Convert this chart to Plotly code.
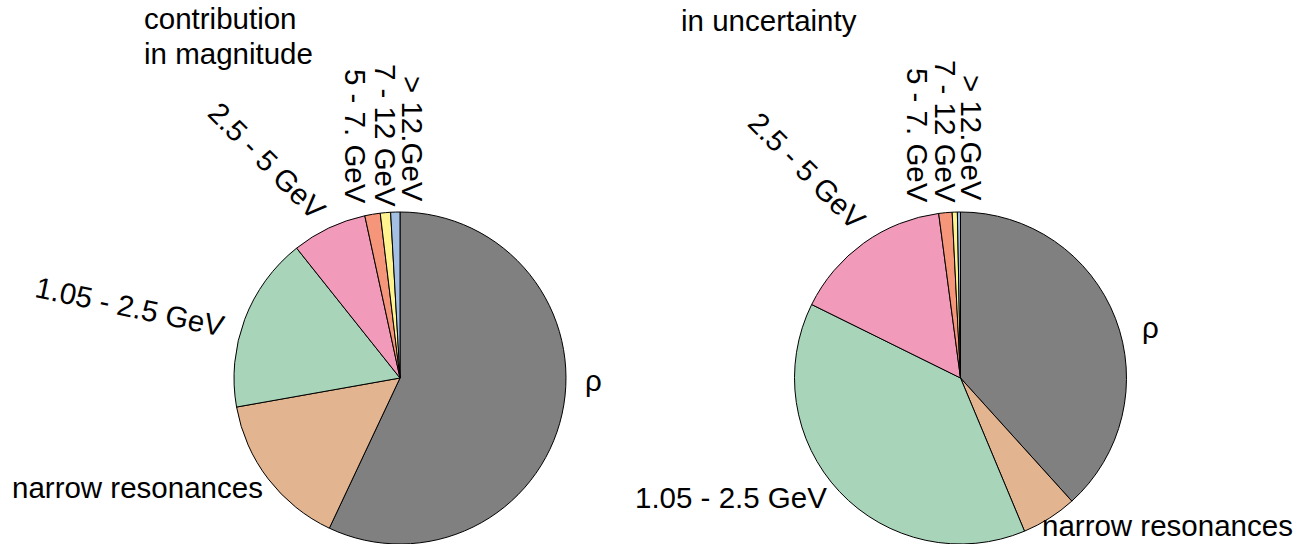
import plotly.graph_objects as go

W, H = 1308, 544

categories = ["ρ", "narrow resonances", "1.05 - 2.5 GeV", "2.5 - 5 GeV",
              "5 - 7. GeV", "7 - 12 GeV", "> 12.GeV"]
magnitude = [57.0, 15.2, 17.1, 7.3, 1.5, 1.0, 0.9]
uncertainty = [38.3, 5.4, 38.6, 15.6, 1.3, 0.5, 0.3]
titles = [["contribution", "in magnitude"], ["in uncertainty"]]

colors = ["#808080", "#e2b48f", "#a8d5b9", "#f29aba", "#f5967a", "#fff38f", "#a3bfe3"]

# pie geometry in screen pixels (center x, center y, radius)
pies = [(400, 378, 166), (960.5, 378, 166)]


def fx(px):
    return px / W


def fy(py):
    return 1 - py / H


fig = go.Figure()
for vals, (cx, cy, r) in zip([magnitude, uncertainty], pies):
    fig.add_trace(go.Pie(
        labels=categories, values=vals, sort=False, direction="clockwise",
        rotation=0, textinfo="none", hoverinfo="skip",
        marker=dict(colors=colors, line=dict(color="black", width=1)),
        domain=dict(x=[max(0, fx(cx - r)), min(1, fx(cx + r))],
                    y=[max(0, fy(cy + r)), min(1, fy(cy - r))]),
    ))

# label placement (screen pixel centers, rotation) for each pie
label_pos = [
    [(593, 380, 0), (137, 487, 0), (130, 306, 12), (267, 160, 45),
     (356, 136, 90), (386, 135, 90), (413, 139, 90)],
    [(1150, 327, 0), (1167, 525, 0), (731, 497, 0), (807, 170, 45),
     (918, 135, 90), (946, 131, 90), (972, 138, 90)],
]

font = dict(family="Liberation Sans, Arial, sans-serif", size=29.5, color="black")
ann = []
for lp in label_pos:
    for name, (px, py, ang) in zip(categories, lp):
        ann.append(dict(text=name, x=fx(px), y=fy(py), xref="paper", yref="paper",
                        xanchor="center", yanchor="middle", textangle=ang,
                        showarrow=False, font=font, borderpad=0))

# title lines: (x, y, vertical anchor)
title_pos = [[(143, 36, "bottom"), (143, 36, "top")], [(680, 21, "middle")]]
for lines, poss in zip(titles, title_pos):
    for t, (px, py, ya) in zip(lines, poss):
        ann.append(dict(text=t, x=fx(px), y=fy(py), xref="paper", yref="paper",
                        xanchor="left", yanchor=ya, align="left",
                        showarrow=False, font=font, borderpad=0))

fig.update_layout(width=W, height=H, margin=dict(l=0, r=0, t=0, b=0),
                  paper_bgcolor="white", plot_bgcolor="white",
                  showlegend=False, annotations=ann)

fig.write_html("out.html", config={"displayModeBar": False},
               post_script="document.body.style.margin='0';document.body.style.overflow='hidden';")
